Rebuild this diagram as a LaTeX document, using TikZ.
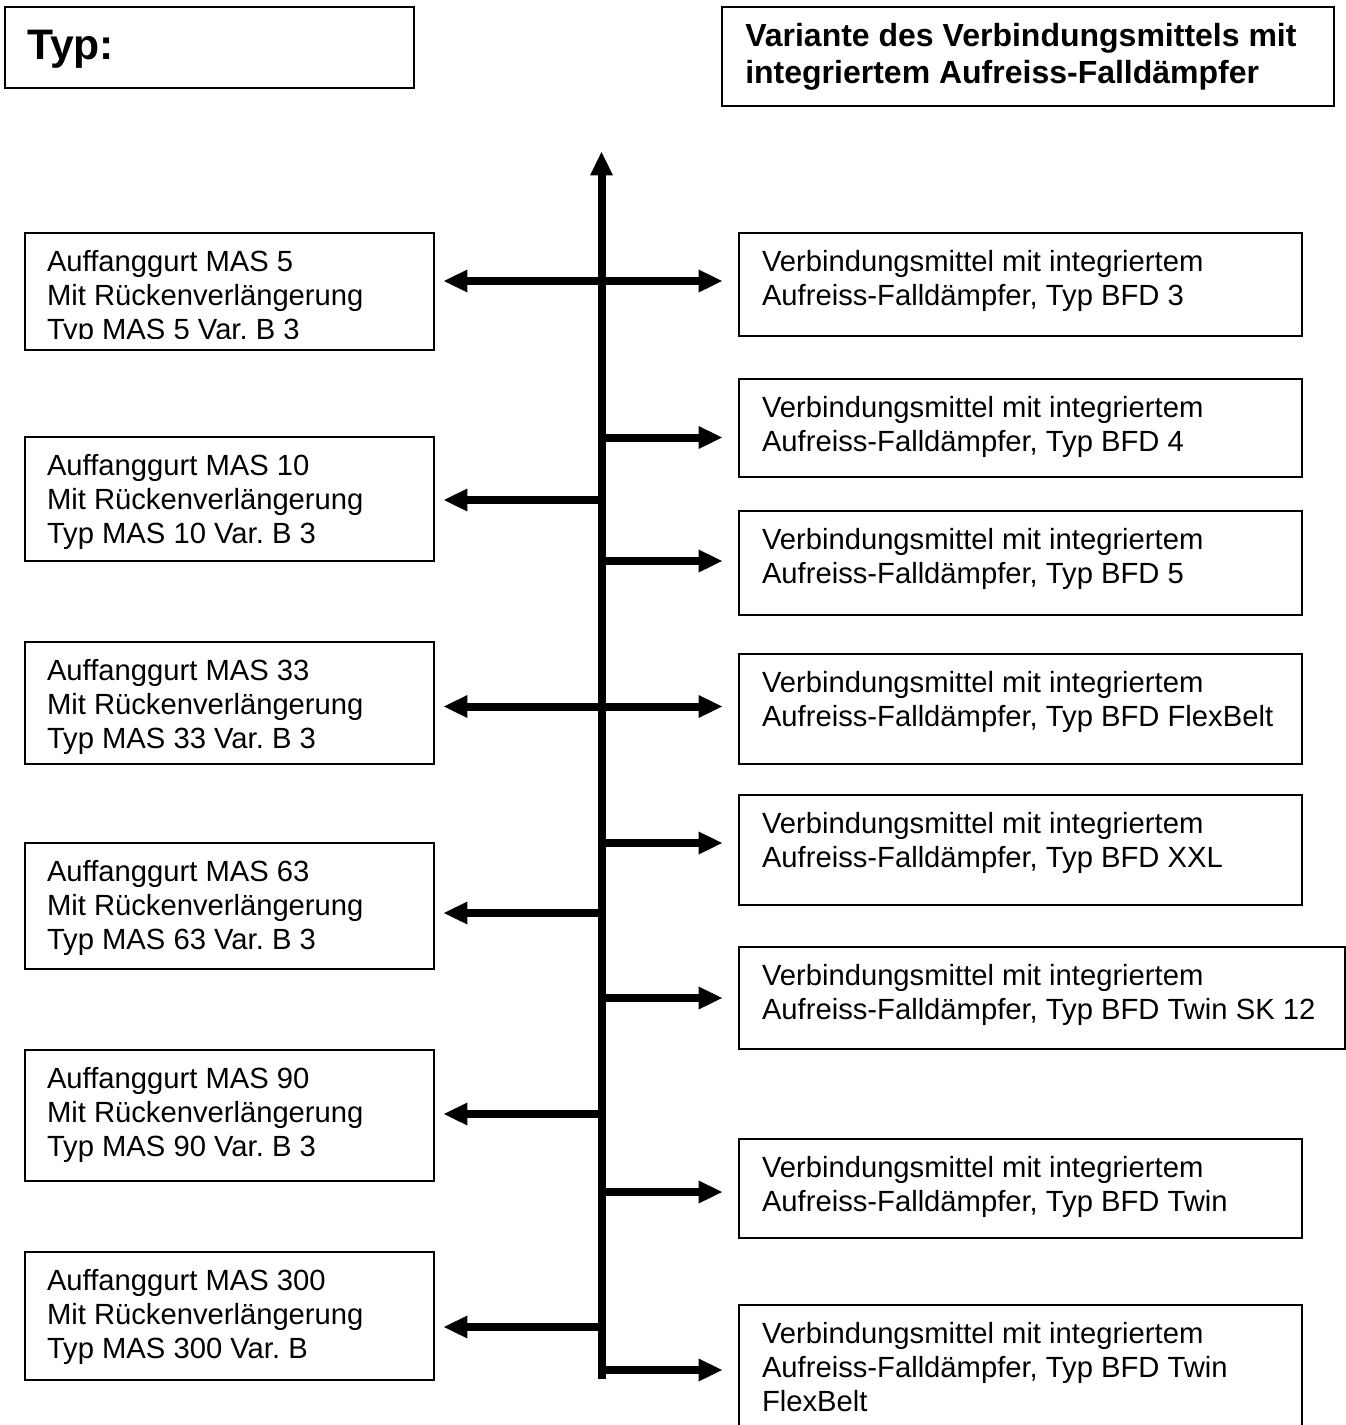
\documentclass[tikz,border=0pt]{standalone}
\usepackage{fontspec}
\setmainfont{Liberation Sans}
\usetikzlibrary{arrows.meta}
\frenchspacing
\newcommand\bodyfnt{\fontsize{21.9pt}{25.5pt}\selectfont}
\newcommand\lines[1]{\parbox[t]{25cm}{\raggedright #1}}
\tikzset{
  frame/.style={draw, line width=1.1pt, inner sep=0pt, outer sep=0pt, anchor=north west, rectangle},
  txt/.style={anchor=base west, inner sep=0pt, outer sep=0pt, font=\bodyfnt},
  tiptri/.tip={Triangle[length=17.6pt,width=17.3pt,line width=0pt]},
  thick arrow/.style={line width=6pt},
  arrR/.style={thick arrow, -tiptri, shorten >=12.75pt},
  arrL/.style={thick arrow, -tiptri, shorten >=7.5pt},
  arrB/.style={thick arrow, tiptri-tiptri, shorten <=7.5pt, shorten >=12.75pt},
}
\newcommand\fbx[5]{\node[frame, minimum width={(#4-#2)*0.75pt}, minimum height={(#5-#3)*0.75pt}] (#1) at (#2,#3) {};}
\begin{document}
\begin{tikzpicture}[x=0.75pt,y=-0.75pt]
\useasboundingbox (0,0) rectangle (1346,1425);
\clip (0,0) rectangle (1346,1425);
\fill[white] (0,0) rectangle (1346,1425);

% header boxes
\fbx{typ}{5}{7}{414}{88}
\node[anchor=base west, inner sep=0pt, font=\fontsize{32pt}{37pt}\selectfont\bfseries] (typt) at (27,59) {Typ:};
\fbx{title}{722}{7}{1334}{106}
\node[anchor=base west, inner sep=0pt, font=\fontsize{24pt}{27.75pt}\selectfont\bfseries] (titlet) at (745,46)
  {\lines{Variante des Verbindungsmittels mit\\integriertem Aufreiss-Falldämpfer}};

% left boxes
\fbx{L1}{25}{233}{434}{350}
\fbx{L2}{25}{437}{434}{561}
\fbx{L3}{25}{642}{434}{764}
\fbx{L4}{25}{843}{434}{969}
\fbx{L5}{25}{1050}{434}{1181}
\fbx{L6}{25}{1252}{434}{1380}
\begin{scope}
\clip (25,233) rectangle (434,338);
\node[txt] (L1t) at (47,271.5) {\lines{Auffanggurt MAS 5\\Mit Rückenverlängerung\\Typ MAS 5 Var. B 3}};
\end{scope}
\node[txt] (L2t) at (47,475.5) {\lines{Auffanggurt MAS 10\\Mit Rückenverlängerung\\Typ MAS 10 Var. B 3}};
\node[txt] (L3t) at (47,680.5) {\lines{Auffanggurt MAS 33\\Mit Rückenverlängerung\\Typ MAS 33 Var. B 3}};
\node[txt] (L4t) at (47,881.5) {\lines{Auffanggurt MAS 63\\Mit Rückenverlängerung\\Typ MAS 63 Var. B 3}};
\node[txt] (L5t) at (47,1088.5) {\lines{Auffanggurt MAS 90\\Mit Rückenverlängerung\\Typ MAS 90 Var. B 3}};
\node[txt] (L6t) at (47,1290.5) {\lines{Auffanggurt MAS 300\\Mit Rückenverlängerung\\Typ MAS 300 Var. B}};

% right boxes
\fbx{R1}{739}{233}{1302}{336}
\fbx{R2}{739}{379}{1302}{477}
\fbx{R3}{739}{511}{1302}{615}
\fbx{R4}{739}{654}{1302}{764}
\fbx{R5}{739}{795}{1302}{905}
\fbx{R6}{739}{947}{1345}{1049}
\fbx{R7}{739}{1139}{1302}{1238}
\fbx{R8}{739}{1305}{1302}{1440}
\node[txt] (R1t) at (762,271) {\lines{Verbindungsmittel mit integriertem\\Aufreiss-Falldämpfer, Typ BFD 3}};
\node[txt] (R2t) at (762,417) {\lines{Verbindungsmittel mit integriertem\\Aufreiss-Falldämpfer, Typ BFD 4}};
\node[txt] (R3t) at (762,549) {\lines{Verbindungsmittel mit integriertem\\Aufreiss-Falldämpfer, Typ BFD 5}};
\node[txt] (R4t) at (762,692.5) {\lines{Verbindungsmittel mit integriertem\\Aufreiss-Falldämpfer, Typ BFD FlexBelt}};
\node[txt] (R5t) at (762,833.5) {\lines{Verbindungsmittel mit integriertem\\Aufreiss-Falldämpfer, Typ BFD XXL}};
\node[txt] (R6t) at (762,985) {\lines{Verbindungsmittel mit integriertem\\Aufreiss-Falldämpfer, Typ BFD Twin SK 12}};
\node[txt] (R7t) at (762,1177) {\lines{Verbindungsmittel mit integriertem\\Aufreiss-Falldämpfer, Typ BFD Twin}};
\node[txt] (R8t) at (762,1343.5) {\lines{Verbindungsmittel mit integriertem\\Aufreiss-Falldämpfer, Typ BFD Twin\\FlexBelt}};

% spine
\coordinate (sp0) at (601.5,1379);
\coordinate (spT) at (601.5,152);
\draw[thick arrow, -tiptri] (sp0) -- (spT);
\coordinate (b1) at (601.5,281);
\coordinate (b2) at (601.5,437.5);
\coordinate (b3) at (601.5,500);
\coordinate (b4) at (601.5,561);
\coordinate (b5) at (601.5,706.5);
\coordinate (b6) at (601.5,843);
\coordinate (b7) at (601.5,913);
\coordinate (b8) at (601.5,998);
\coordinate (b9) at (601.5,1114);
\coordinate (b10) at (601.5,1192);
\coordinate (b11) at (601.5,1327);
\coordinate (b12) at (601.5,1370);

\draw[arrB] (b1 -| L1.east) -- (b1 -| R1.west);
\draw[arrR] (b2) -- (b2 -| R2.west);
\draw[arrL] (b3) -- (b3 -| L2.east);
\draw[arrR] (b4) -- (b4 -| R3.west);
\draw[arrB] (b5 -| L3.east) -- (b5 -| R4.west);
\draw[arrR] (b6) -- (b6 -| R5.west);
\draw[arrL] (b7) -- (b7 -| L4.east);
\draw[arrR] (b8) -- (b8 -| R6.west);
\draw[arrL] (b9) -- (b9 -| L5.east);
\draw[arrR] (b10) -- (b10 -| R7.west);
\draw[arrL] (b11) -- (b11 -| L6.east);
\draw[arrR] (b12) -- (b12 -| R8.west);
\end{tikzpicture}
\end{document}
